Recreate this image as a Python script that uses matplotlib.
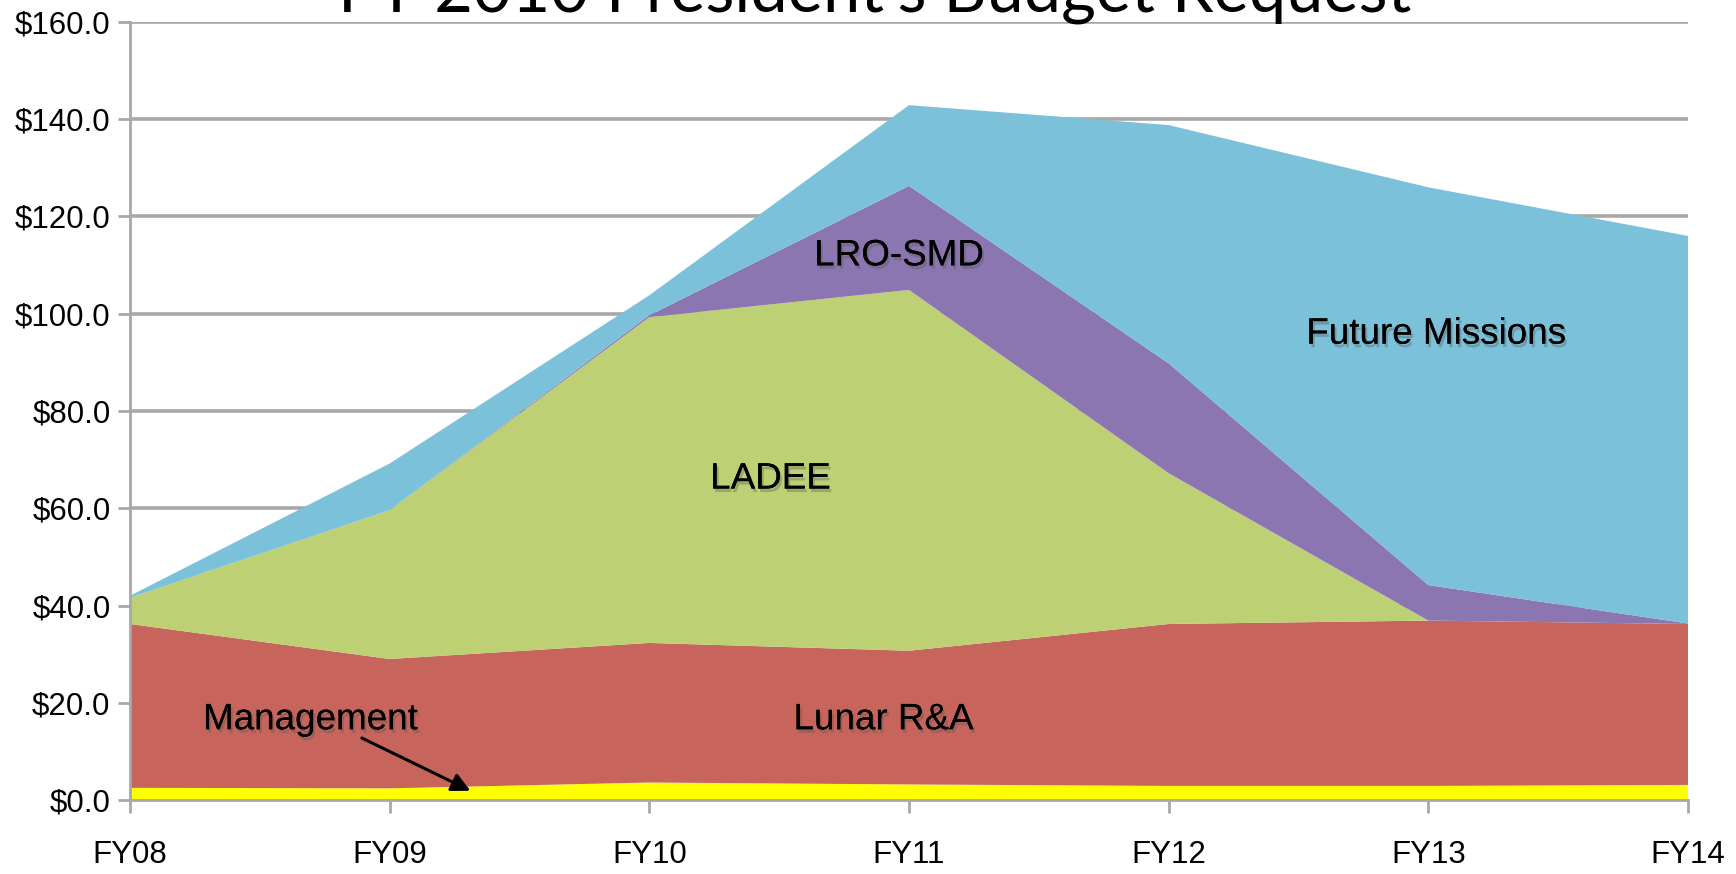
import matplotlib
matplotlib.use("Agg")
import matplotlib.pyplot as plt
import matplotlib.patheffects as pe
import numpy as np

years = ["FY08", "FY09", "FY10", "FY11", "FY12", "FY13", "FY14"]
management = [2.5, 2.4, 3.6, 3.2, 2.9, 2.9, 3.1]
lunar_ra = [33.7, 26.6, 28.7, 27.5, 33.3, 34.0, 33.1]
ladee = [5.4, 30.6, 67.0, 74.2, 31.0, 0.0, 0.0]
lro_smd = [0.0, 0.0, 0.4, 21.4, 22.6, 7.3, 0.1]
future = [0.4, 9.6, 4.1, 16.6, 49.0, 81.8, 79.7]
yticks = [0, 20, 40, 60, 80, 100, 120, 140, 160]

colors = ["#FFFF00", "#C7655C", "#BED074", "#8B76B2", "#7BC1DA"]

fig = plt.figure(figsize=(17.36, 8.74), dpi=100)
ax = fig.add_axes([130/1736, 74/874, (1688-130)/1736, (800-22)/874])

x = np.arange(len(years))
ax.stackplot(x, management, lunar_ra, ladee, lro_smd, future,
             colors=colors, linewidth=0, zorder=2)

ax.set_xlim(0, len(years) - 1)
ax.set_ylim(0, 160)
ax.set_yticks(yticks)
ax.set_yticklabels([f"${v:.1f}" for v in yticks])
ax.set_xticks(x)
ax.set_xticklabels(years)

ax.set_axisbelow(True)
ax.yaxis.grid(True, color="#A8A8A8", linewidth=2.6, zorder=0)
ax.xaxis.grid(False)
for s in ["top", "right"]:
    ax.spines[s].set_visible(False)
for s in ["left", "bottom"]:
    ax.spines[s].set_color("#A8A8A8")
    ax.spines[s].set_linewidth(2.0)
    ax.spines[s].set_zorder(3)

ax.tick_params(axis="both", colors="#A8A8A8", width=2, length=9,
               labelcolor="black", labelsize=22.5)
ax.tick_params(axis="x", pad=20)
ax.tick_params(axis="y", pad=5)
for lab in ax.get_xticklabels() + ax.get_yticklabels():
    lab.set_fontfamily("Liberation Sans")

shadow = [pe.withSimplePatchShadow(offset=(1.5, -2.5), shadow_rgbFace="#555555", alpha=0.35), pe.Normal()]
lbl = dict(fontsize=26.5, family="Liberation Sans", ha="center", va="center",
           color="black", zorder=5, path_effects=shadow)
ax.text(2.961, 111.9, "LRO-SMD", **lbl)
ax.text(2.466, 66.0, "LADEE", **lbl)
ax.text(5.029, 95.8, "Future Missions", **lbl)
ax.text(2.901, 16.5, "Lunar R&A", **lbl)
ax.text(0.693, 16.5, "Management", **lbl)
ax.annotate("", xy=(1.311, 1.9), xytext=(0.893, 12.75),
            arrowprops=dict(arrowstyle="-|>", color="black", lw=2.2,
                            mutation_scale=28, shrinkA=0, shrinkB=0),
            zorder=6)

fig.text(875/1736, 1 - 12/874, "FY 2010 President's Budget Request",
         ha="center", va="baseline", fontsize=48, family="Lato", color="black")

fig.savefig("out.png", dpi=100)
